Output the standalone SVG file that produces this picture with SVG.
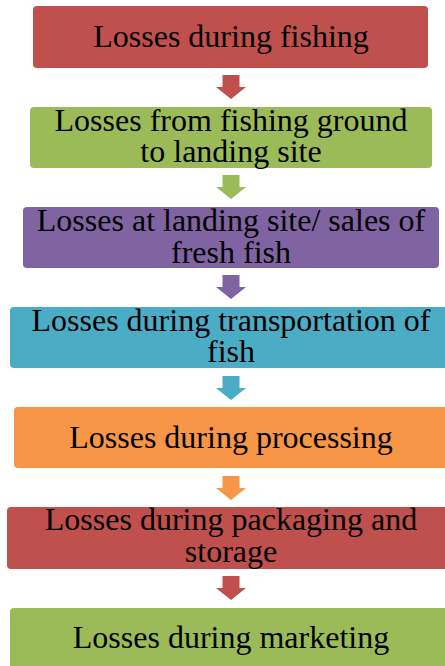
<svg xmlns="http://www.w3.org/2000/svg" width="445" height="666" viewBox="0 0 445 666">
<style>
.t{font-family:'Liberation Serif','DejaVu Serif',serif;font-size:32px;fill:#000;text-anchor:middle}
.red{fill:#C0504D}.green{fill:#9BBB59}.purple{fill:#8064A2}.teal{fill:#4BACC6}.orange{fill:#F79646}
</style>
<defs>
<path id="arr" d="M-8.5,0 H8.5 V12 H15 L0,24 L-15,12 H-8.5 Z"/>
</defs>
<rect width="445" height="666" fill="#fff"/>
<g id="connectors">
<use href="#arr" class="red" x="231" y="75"/>
<use href="#arr" class="green" x="231" y="175"/>
<use href="#arr" class="purple" x="231" y="275"/>
<use href="#arr" class="teal" x="231" y="376"/>
<use href="#arr" class="orange" x="231" y="476"/>
<use href="#arr" class="red" x="231" y="576"/>
</g>
<g id="n1"><rect class="red" x="33" y="6" width="395" height="62" rx="4"/><text class="t" font-family="Liberation Serif, serif" x="231" y="47">Losses during fishing</text></g>
<g id="n2"><rect class="green" x="30" y="107" width="402" height="61" rx="4"/><text class="t" font-family="Liberation Serif, serif" x="231" y="131">Losses from fishing ground</text><text class="t" font-family="Liberation Serif, serif" x="231" y="162">to landing site</text></g>
<g id="n3"><rect class="purple" x="23" y="207" width="416" height="61" rx="4"/><text class="t" font-family="Liberation Serif, serif" x="231" y="231">Losses at landing site/ sales of</text><text class="t" font-family="Liberation Serif, serif" x="231" y="263">fresh fish</text></g>
<g id="n4"><rect class="teal" x="10" y="307" width="445" height="61" rx="4"/><text class="t" font-family="Liberation Serif, serif" x="231" y="331">Losses during transportation of</text><text class="t" font-family="Liberation Serif, serif" x="231" y="362">fish</text></g>
<g id="n5"><rect class="orange" x="14" y="407" width="440" height="61" rx="4"/><text class="t" font-family="Liberation Serif, serif" x="231" y="448">Losses during processing</text></g>
<g id="n6"><rect class="red" x="7" y="507" width="448" height="62" rx="4"/><text class="t" font-family="Liberation Serif, serif" x="231" y="530">Losses during packaging and</text><text class="t" font-family="Liberation Serif, serif" x="231" y="562">storage</text></g>
<g id="n7"><rect class="green" x="10" y="608" width="445" height="66" rx="4"/><text class="t" font-family="Liberation Serif, serif" x="231" y="648">Losses during marketing</text></g>
</svg>
